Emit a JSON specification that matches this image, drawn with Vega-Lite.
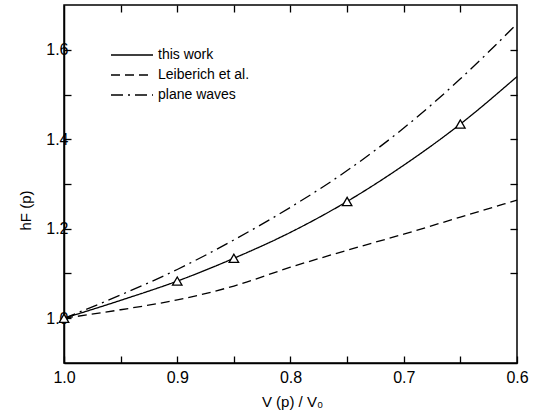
{
  "$schema": "https://vega.github.io/schema/vega-lite/v6.json",
  "width": 453,
  "height": 358,
  "autosize": {"type": "none"},
  "padding": {"left": 64, "top": 5, "right": 24, "bottom": 53},
  "background": "white",
  "config": {
    "font": "Liberation Sans",
    "view": {"stroke": "black", "strokeWidth": 1.5},
    "axis": {
      "grid": false,
      "domainColor": "black",
      "domainWidth": 1.5,
      "tickColor": "black",
      "tickWidth": 1.3,
      "tickSize": -7,
      "labelColor": "black",
      "labelFontSize": 16,
      "titleColor": "black",
      "titleFontSize": 15,
      "titleFontWeight": "normal"
    },
    "legend": {
      "labelFontSize": 14,
      "labelColor": "black"
    }
  },
  "datasets": {
    "curves": [
      {"series": "this work", "x": 1.0, "y": 1.0},
      {"series": "this work", "x": 0.95, "y": 1.04},
      {"series": "this work", "x": 0.9, "y": 1.083},
      {"series": "this work", "x": 0.85, "y": 1.134},
      {"series": "this work", "x": 0.8, "y": 1.192},
      {"series": "this work", "x": 0.75, "y": 1.261},
      {"series": "this work", "x": 0.7, "y": 1.342},
      {"series": "this work", "x": 0.65, "y": 1.434},
      {"series": "this work", "x": 0.6, "y": 1.54},
      {"series": "Leiberich et al.", "x": 1.0, "y": 1.0},
      {"series": "Leiberich et al.", "x": 0.95, "y": 1.019},
      {"series": "Leiberich et al.", "x": 0.9, "y": 1.041},
      {"series": "Leiberich et al.", "x": 0.85, "y": 1.072},
      {"series": "Leiberich et al.", "x": 0.8, "y": 1.114},
      {"series": "Leiberich et al.", "x": 0.75, "y": 1.152},
      {"series": "Leiberich et al.", "x": 0.7, "y": 1.188},
      {"series": "Leiberich et al.", "x": 0.65, "y": 1.226},
      {"series": "Leiberich et al.", "x": 0.6, "y": 1.264},
      {"series": "plane waves", "x": 1.0, "y": 1.0},
      {"series": "plane waves", "x": 0.95, "y": 1.052},
      {"series": "plane waves", "x": 0.9, "y": 1.109},
      {"series": "plane waves", "x": 0.85, "y": 1.175},
      {"series": "plane waves", "x": 0.8, "y": 1.248},
      {"series": "plane waves", "x": 0.75, "y": 1.33},
      {"series": "plane waves", "x": 0.7, "y": 1.425},
      {"series": "plane waves", "x": 0.65, "y": 1.535},
      {"series": "plane waves", "x": 0.6, "y": 1.658}
    ],
    "points": [
      {"x": 1.0, "y": 1.0},
      {"x": 0.9, "y": 1.083},
      {"x": 0.85, "y": 1.134},
      {"x": 0.75, "y": 1.261},
      {"x": 0.65, "y": 1.434}
    ]
  },
  "layer": [
    {
      "data": {"name": "curves"},
      "mark": {"type": "line", "color": "black", "strokeWidth": 1.3, "interpolate": "monotone"},
      "encoding": {
        "x": {
          "field": "x", "type": "quantitative",
          "scale": {"domain": [0.6, 1.0], "reverse": true, "nice": false, "zero": false},
          "axis": {
            "orient": "bottom",
            "values": [1.0, 0.95, 0.9, 0.85, 0.8, 0.75, 0.7, 0.65, 0.6],
            "labelExpr": "abs(datum.value*10 - round(datum.value*10)) < 0.01 ? format(datum.value, '.1f') : ''",
            "labelPadding": 13,
            "labelFlush": false,
            "labelOverlap": false,
            "title": "V (p) / V₀",
            "titleX": 228,
            "titleY": 38,
            "titleBaseline": "middle"
          }
        },
        "y": {
          "field": "y", "type": "quantitative",
          "scale": {"domain": [0.9, 1.7], "nice": false, "zero": false},
          "axis": {
            "orient": "left",
            "values": [1.0, 1.1, 1.2, 1.3, 1.4, 1.5, 1.6],
            "labelExpr": "abs(datum.value*5 - round(datum.value*5)) < 0.01 ? format(datum.value, '.1f') : ''",
            "labelPadding": 3,
            "labelOverlap": false,
            "title": "hF (p)",
            "titleX": -39,
            "titleY": 205,
            "titleAlign": "center",
            "titleBaseline": "middle",
            "titleAngle": -90
          }
        },
        "strokeDash": {
          "field": "series", "type": "nominal",
          "scale": {
            "domain": ["this work", "Leiberich et al.", "plane waves"],
            "range": [[1, 0], [9, 5], [12, 5, 2, 5]]
          },
          "legend": {
            "title": null,
            "orient": "none",
            "legendX": 46,
            "legendY": 40,
            "symbolType": "stroke",
            "symbolSize": 1764,
            "symbolStrokeWidth": 1.3,
            "symbolStrokeColor": "black",
            "clipHeight": 20,
            "rowPadding": 0,
            "labelOffset": 4
          }
        }
      }
    },
    {
      "data": {"name": "points"},
      "mark": {"type": "point", "shape": "triangle-up", "filled": true, "fill": "white", "stroke": "black", "strokeWidth": 1.3, "size": 90, "opacity": 1},
      "encoding": {
        "x": {"field": "x", "type": "quantitative", "axis": null},
        "y": {"field": "y", "type": "quantitative", "axis": null}
      }
    },
    {
      "data": {"name": "points"},
      "mark": {"type": "point", "opacity": 0},
      "encoding": {
        "x": {
          "field": "x", "type": "quantitative",
          "axis": {"orient": "top", "values": [0.95, 0.9, 0.85, 0.8, 0.75, 0.7, 0.65], "labels": false, "title": null, "domain": false}
        },
        "y": {
          "field": "y", "type": "quantitative",
          "axis": {"orient": "right", "values": [1.1, 1.2, 1.3, 1.4, 1.5, 1.6], "labels": false, "title": null, "domain": false}
        }
      }
    }
  ],
  "resolve": {"axis": {"x": "independent", "y": "independent"}}
}
